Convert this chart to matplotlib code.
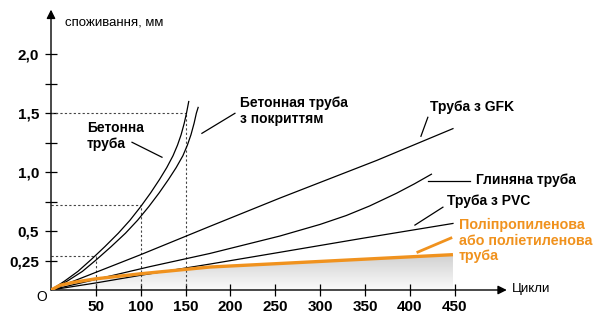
import numpy as np
import matplotlib
matplotlib.use("Agg")
import matplotlib.pyplot as plt
from matplotlib.colors import LinearSegmentedColormap

plt.rcParams['font.family'] = ['Liberation Sans', 'DejaVu Sans']

ORANGE = '#F0921E'

# --- дані ---
beton_x = [0, 15, 30, 45, 60, 75, 88, 100, 111, 121, 129, 136, 141, 145, 148.5, 151, 153.5]
beton_y = [0, 0.075, 0.158, 0.26, 0.368, 0.482, 0.592, 0.708, 0.824, 0.939, 1.039, 1.14, 1.23,
           1.318, 1.416, 1.501, 1.60]

beton_cov_x = [0, 18, 35, 51, 67, 83, 96.5, 109, 120.5, 131, 139.5, 147, 152, 156, 159.5, 162, 164]
beton_cov_y = [0, 0.075, 0.158, 0.26, 0.368, 0.482, 0.592, 0.708, 0.824, 0.939, 1.039, 1.14, 1.23,
               1.318, 1.416, 1.501, 1.55]

gfk_x = [0, 100, 177, 255, 363, 448]
gfk_y = [0, 0.30, 0.54, 0.78, 1.10, 1.37]

clay_x = [0, 50, 110, 177, 255, 300, 329, 355, 385, 405, 424]
clay_y = [0, 0.09, 0.198, 0.31, 0.458, 0.557, 0.632, 0.713, 0.821, 0.901, 0.983]

pvc_x = [0, 50, 100, 177, 255, 348, 448]
pvc_y = [0, 0.06, 0.125, 0.22, 0.32, 0.44, 0.565]

pp_x = [0, 10, 25, 50, 100, 177, 255, 350, 448]
pp_y = [0, 0.04, 0.065, 0.095, 0.138, 0.195, 0.225, 0.262, 0.30]

# допоміжні пунктири для бетонної труби
guide_x = [50, 100, 150]
guide_y = [0.29, 0.72, 1.5]

cycle_ticks = [50, 100, 150, 200, 250, 300, 350, 400, 450]
y_ticks = [0.25, 0.5, 0.75, 1.0, 1.25, 1.5, 1.75, 2.0]
y_tick_labels = ['0,25', '0,5', '', '1,0', '', '1,5', '', '2,0']

fig = plt.figure(figsize=(5.98, 3.13), dpi=100)
ax = fig.add_axes([51 / 598, 23 / 313, 454 / 598, 278 / 313])
for s in ax.spines.values():
    s.set_visible(False)

# --- сірий градієнт під PP ---
poly = ax.fill_between(pp_x, pp_y, 0, color='none', lw=0)
grad = np.linspace(0, 1, 256).reshape(-1, 1)
cmap = LinearSegmentedColormap.from_list('g', ['#fbfbfb', '#d0d0d0'])
im = ax.imshow(grad, extent=[0, max(pp_x), 0, max(pp_y)], origin='lower',
               cmap=cmap, aspect='auto', zorder=1)
im.set_clip_path(poly.get_paths()[0], transform=ax.transData)

# --- пунктири ---
for gx, gy in zip(guide_x, guide_y):
    ax.plot([0, gx], [gy, gy], ls=(0, (2, 2)), color='#444444', lw=0.8, zorder=2)
    ax.plot([gx, gx], [0, gy], ls=(0, (2, 2)), color='#444444', lw=0.8, zorder=2)

# --- криві ---
for xs, ys in [(beton_x, beton_y), (beton_cov_x, beton_cov_y), (gfk_x, gfk_y),
               (clay_x, clay_y), (pvc_x, pvc_y)]:
    ax.plot(xs, ys, color='black', lw=0.9, zorder=3)
ax.plot(pp_x, pp_y, color=ORANGE, lw=2.4, zorder=4, solid_capstyle='butt')

# --- осі зі стрілками ---
arr = dict(arrowstyle='-|>', lw=1, color='black', mutation_scale=13, shrinkA=0, shrinkB=0)
ax.annotate('', xy=(0, 2.38), xytext=(0, 0), arrowprops=arr, annotation_clip=False)
ax.annotate('', xy=(508, 0), xytext=(0, 0), arrowprops=arr, annotation_clip=False)

ax.set_xticks(cycle_ticks)
ax.set_xticklabels([str(t) for t in cycle_ticks], fontweight='bold')
ax.set_yticks(y_ticks)
ax.set_yticklabels(y_tick_labels, fontweight='bold')
ax.tick_params(axis='x', direction='inout', length=8, width=0.9, pad=3, labelsize=11)
ax.tick_params(axis='y', direction='inout', length=9, width=0.9, pad=4, labelsize=11)

ax.text(-10, -0.06, 'O', fontsize=10, ha='center', va='center', clip_on=False)
ax.text(15.6, 2.27, 'споживання, мм', fontsize=9.5, ha='left', va='center', clip_on=False)
ax.text(514, 0.01, 'Цикли', fontsize=9.5, ha='left', va='center', clip_on=False)

# --- підписи з виносками ---
labels = [
    ('Бетонна\nтруба', 40, 1.309, 'black', [(90.3, 1.254), (123.7, 1.127)]),
    ('Бетонная труба\nз покриттям', 210.6, 1.517, 'black', [(205, 1.50), (168.2, 1.33)]),
    ('Труба з GFK', 422.3, 1.551, 'black', [(420, 1.466), (412.3, 1.305)]),
    ('Глиняна труба', 473.5, 0.932, 'black', [(420, 0.924), (466.9, 0.924)]),
    ('Труба з PVC', 441.2, 0.754, 'black', [(436.8, 0.703), (405.6, 0.551)]),
    ('Поліпропиленова\nабо поліетиленова\nтруба', 454.6, 0.419, ORANGE,
     [(445.7, 0.441), (408.9, 0.322)]),
]
for txt, tx, ty, col, seg in labels:
    fs = 10.3 if col == ORANGE else 10
    ax.text(tx, ty, txt, color=col, fontsize=fs, fontweight='bold', ha='left',
            va='center', linespacing=1.15, clip_on=False)
    (x0, y0), (x1, y1) = seg
    lw = 2 if col == ORANGE else 0.9
    ax.plot([x0, x1], [y0, y1], color=col, lw=lw, clip_on=False)

ax.set_xlim(0, 506)
ax.set_ylim(0, 2.36)

fig.savefig('out.png', dpi=100)
